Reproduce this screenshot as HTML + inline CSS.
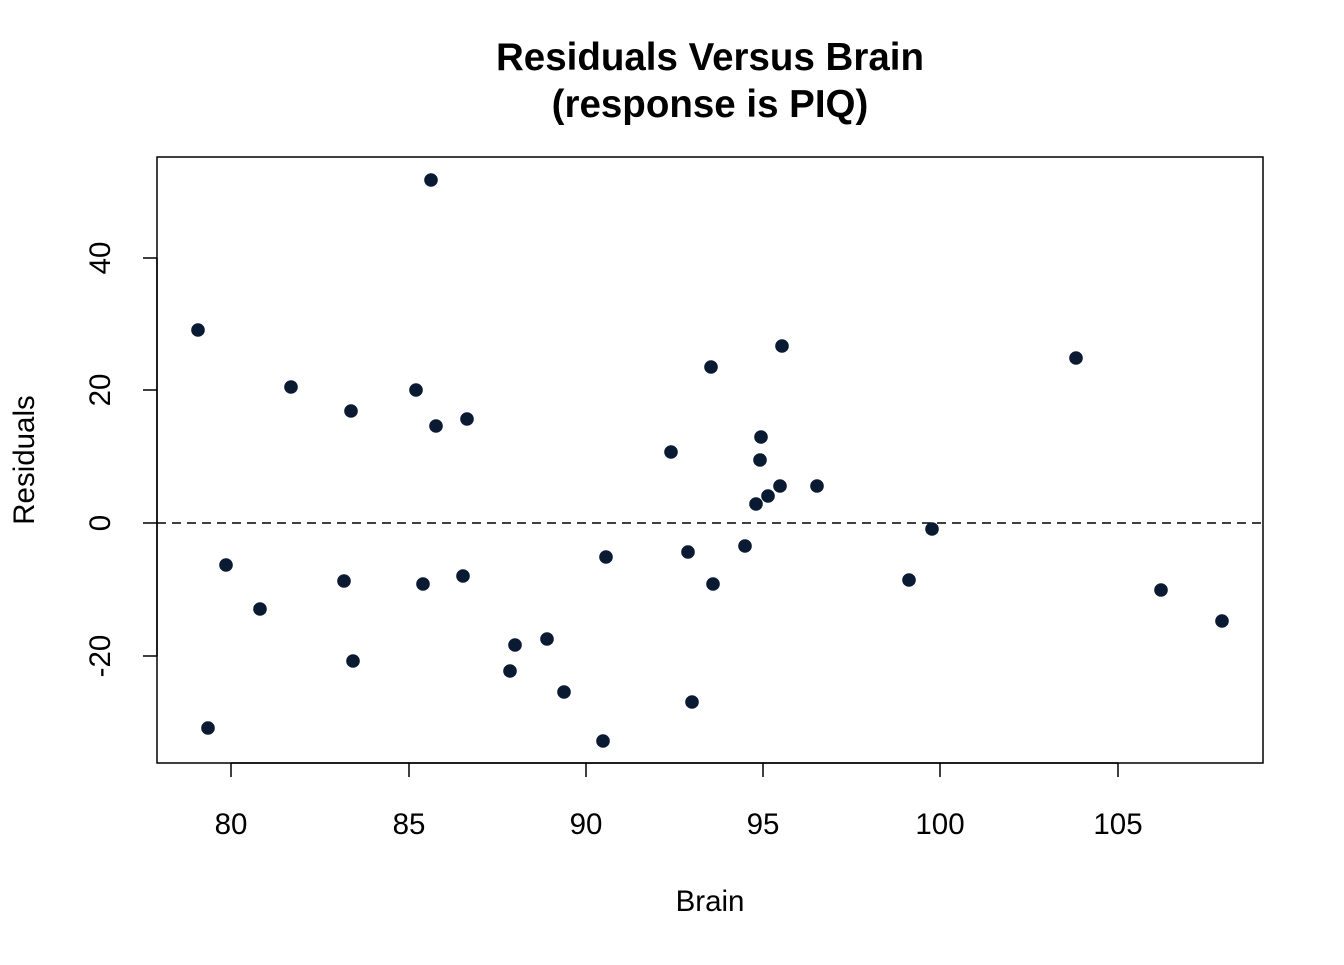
<!DOCTYPE html>
<html><head><meta charset="utf-8"><style>body{margin:0;background:#fff}</style></head>
<body>
<svg width="1344" height="960" xmlns="http://www.w3.org/2000/svg" font-family="Liberation Sans, Arial, sans-serif">
<rect width="1344" height="960" fill="#fff"/>
<text x="710" y="70" text-anchor="middle" font-size="38.5" font-weight="bold">Residuals Versus Brain</text>
<text x="710" y="117" text-anchor="middle" font-size="38.5" font-weight="bold">(response is PIQ)</text>
<rect x="157" y="157" width="1106" height="606" fill="none" stroke="#000" stroke-width="1.5"/>
<line x1="157" y1="523" x2="1263" y2="523" stroke="#000" stroke-width="1.5" stroke-dasharray="9,6"/>
<g stroke="#000" stroke-width="1.5">
<line x1="231" y1="763" x2="1118" y2="763"/>
<line x1="231" y1="763" x2="231" y2="777"/><line x1="409" y1="763" x2="409" y2="777"/><line x1="586" y1="763" x2="586" y2="777"/><line x1="763" y1="763" x2="763" y2="777"/><line x1="940" y1="763" x2="940" y2="777"/><line x1="1118" y1="763" x2="1118" y2="777"/>
<line x1="157" y1="258" x2="157" y2="656"/>
<line x1="143" y1="258" x2="157" y2="258"/><line x1="143" y1="390" x2="157" y2="390"/><line x1="143" y1="523" x2="157" y2="523"/><line x1="143" y1="656" x2="157" y2="656"/>
</g>
<g font-size="29.5" text-anchor="middle">
<text x="231" y="834">80</text><text x="409" y="834">85</text><text x="586" y="834">90</text><text x="763" y="834">95</text><text x="940" y="834">100</text><text x="1118" y="834">105</text>
<text x="710" y="911">Brain</text>
<text transform="translate(110,258) rotate(-90)">40</text>
<text transform="translate(110,390) rotate(-90)">20</text>
<text transform="translate(110,523) rotate(-90)">0</text>
<text transform="translate(110,656) rotate(-90)">-20</text>
<text transform="translate(34,460) rotate(-90)">Residuals</text>
</g>
<g fill="#0a1a33">
<circle cx="198" cy="330" r="6.8"/><circle cx="431" cy="180" r="6.8"/><circle cx="291" cy="387" r="6.8"/><circle cx="416" cy="390" r="6.8"/><circle cx="351" cy="411" r="6.8"/><circle cx="436" cy="426" r="6.8"/><circle cx="467" cy="419" r="6.8"/><circle cx="226" cy="565" r="6.8"/><circle cx="260" cy="609" r="6.8"/><circle cx="344" cy="581" r="6.8"/><circle cx="423" cy="584" r="6.8"/><circle cx="463" cy="576" r="6.8"/><circle cx="353" cy="661" r="6.8"/><circle cx="208" cy="728" r="6.8"/><circle cx="515" cy="645" r="6.8"/><circle cx="510" cy="671" r="6.8"/><circle cx="547" cy="639" r="6.8"/><circle cx="564" cy="692" r="6.8"/><circle cx="603" cy="741" r="6.8"/><circle cx="606" cy="557" r="6.8"/><circle cx="671" cy="452" r="6.8"/><circle cx="711" cy="367" r="6.8"/><circle cx="782" cy="346" r="6.8"/><circle cx="761" cy="437" r="6.8"/><circle cx="760" cy="460" r="6.8"/><circle cx="780" cy="486" r="6.8"/><circle cx="817" cy="486" r="6.8"/><circle cx="768" cy="496" r="6.8"/><circle cx="756" cy="504" r="6.8"/><circle cx="688" cy="552" r="6.8"/><circle cx="713" cy="584" r="6.8"/><circle cx="745" cy="546" r="6.8"/><circle cx="692" cy="702" r="6.8"/><circle cx="909" cy="580" r="6.8"/><circle cx="932" cy="529" r="6.8"/><circle cx="1076" cy="358" r="6.8"/><circle cx="1161" cy="590" r="6.8"/><circle cx="1222" cy="621" r="6.8"/>
</g>
</svg>
</body></html>
